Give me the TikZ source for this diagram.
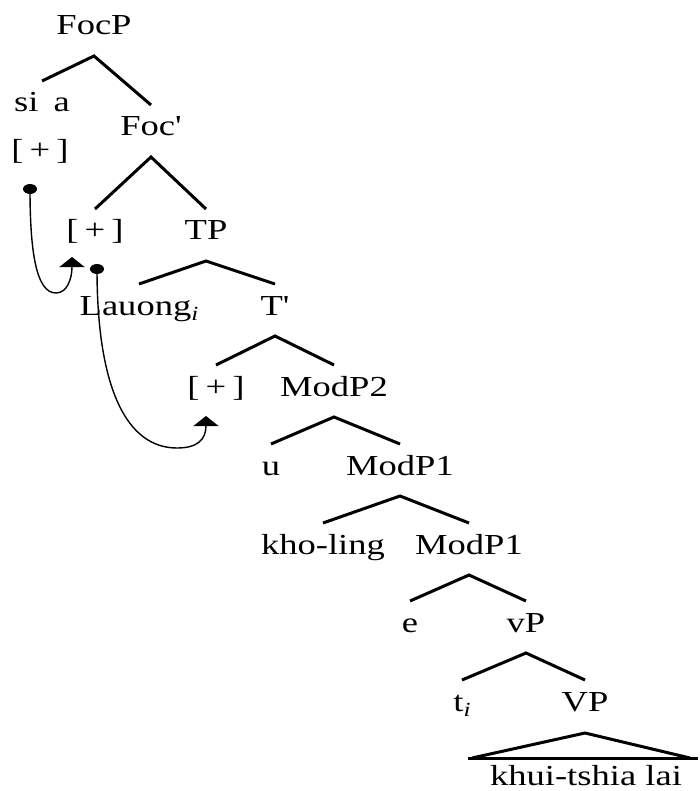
\documentclass[tikz,border=0pt]{standalone}
\usepackage{fontspec}
\setmainfont{Liberation Serif}
\usetikzlibrary{calc,arrows.meta}

% labels are set a little wide
\newcommand{\wide}[1]{\scalebox{1.26}[1]{#1}}
\newcommand{\idx}{\raisebox{-0.2em}{\fontsize{20}{20}\selectfont\itshape i}}
\newcommand{\feat}{[\,+\,]}

\begin{document}
\begin{tikzpicture}[x=1pt,y=-1pt,
  lbl/.style={anchor=base,inner sep=0pt,font=\fontsize{29}{34}\selectfont},
  branch/.style={line width=3pt},
  move/.style={line width=1.4pt,-{Triangle[width=25pt,length=10pt]}},
  dotmark/.style={x radius=7pt,y radius=5pt},
]
\useasboundingbox (0,0) rectangle (700,791);

% labels
\node[lbl] (FocP)    at (94,35)   {\wide{FocP}};
\node[lbl] (siA)     at (42,112)  {\wide{si\, a}};
\node[lbl] (featA)   at (40,160)  {\wide{\feat}};
\node[lbl] (FocBar)  at (151,136) {\wide{Foc\textquotesingle}};
\node[lbl] (featB)   at (95,240)  {\wide{\feat}};
\node[lbl] (TP)      at (206,240) {\wide{TP}};
\node[lbl] (Lauong)  at (139,315) {\wide{Lauong\idx}};
\node[lbl] (Tbar)    at (275,315) {\wide{T\textquotesingle}};
\node[lbl] (featC)   at (216,396) {\wide{\feat}};
\node[lbl] (ModPii)  at (334,396) {\wide{ModP2}};
\node[lbl] (u)       at (271,475) {\wide{u}};
\node[lbl] (ModPi)   at (400,475) {\wide{ModP1}};
\node[lbl] (kholing) at (323,554) {\wide{kho-ling}};
\node[lbl] (ModPib)  at (469,554) {\wide{ModP1}};
\node[lbl] (e)       at (410,632) {\wide{e}};
\node[lbl] (vP)      at (526,632) {\wide{vP}};
\node[lbl] (trace)   at (462,711) {\wide{t\idx}};
\node[lbl] (VP)      at (585,711) {\wide{VP}};
\node[lbl] (khui)    at (586,785) {\wide{khui-tshia lai}};

% branches: from under the mother to above each daughter
\foreach \m/\a/\b in {FocP/siA/FocBar, FocBar/featB/TP, TP/Lauong/Tbar,
                      Tbar/featC/ModPii, ModPii/u/ModPi, ModPi/kholing/ModPib,
                      ModPib/e/vP, vP/trace/VP}{
  \draw[branch,line join=miter]
    ($(\a.base)+(0,-31)$) -- ($(\m.base)+(0,21)$) -- ($(\b.base)+(0,-31)$);
}

% triangle over the VP string
\draw[branch,line join=miter]
  ($(khui.base)+(-114,-27)$) -- ($(VP.base)+(0,22)$) -- ($(khui.base)+(104,-27)$);
\draw[branch] ($(khui.base)+(-118,-27)$) -- ($(khui.base)+(112,-27)$);

% movement: feature checking paths
\coordinate (srcA) at ($(featA.base)+(-10,29)$);
\coordinate (lowA) at ($(featB.base)+(-39,53)$);
\coordinate (tgtB) at ($(featB.base)+(-23,17)$);
\coordinate (srcB) at ($(featB.base)+(2,29)$);
\coordinate (lowB) at ($(featC.base)+(-39,52)$);
\coordinate (tgtC) at ($(featC.base)+(-10,20)$);

\fill (srcA) ellipse [dotmark];
\fill (srcB) ellipse [dotmark];

\draw[move] (srcA) .. controls +(0,62) and +(-20,0) .. (lowA)
                   .. controls +(11,0) and +(0,22) .. (tgtB);
\draw[move] (srcB) .. controls +(0,120) and +(-50,0) .. (lowB)
                   .. controls +(20,0) and +(0,24) .. (tgtC);
\end{tikzpicture}
\end{document}
